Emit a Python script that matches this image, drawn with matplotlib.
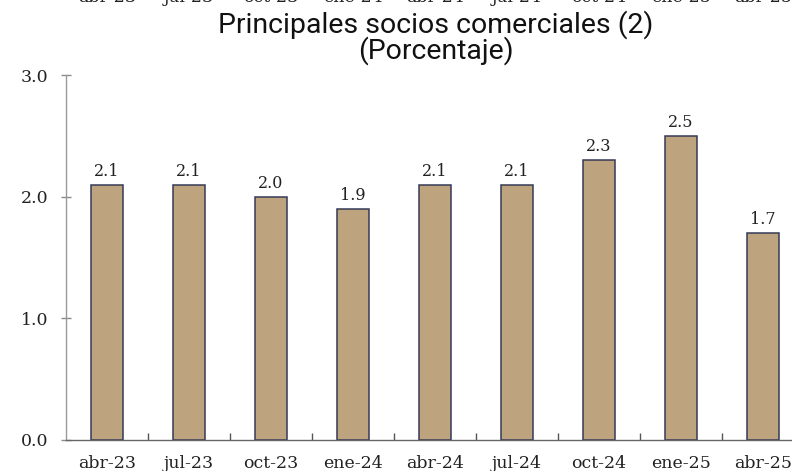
import matplotlib
matplotlib.use("Agg")
import matplotlib.pyplot as plt
import matplotlib.transforms as mtransforms

categories = ["abr-23", "jul-23", "oct-23", "ene-24", "abr-24", "jul-24", "oct-24", "ene-25", "abr-25"]
values = [2.1, 2.1, 2.0, 1.9, 2.1, 2.1, 2.3, 2.5, 1.7]
yticks = [0.0, 1.0, 2.0, 3.0]
title_lines = ["Principales socios comerciales (2)", "(Porcentaje)"]

W, H = 792, 471
fig = plt.figure(figsize=(W / 100, H / 100), dpi=100)
ax = fig.add_axes([66 / W, 31 / H, (792 - 66) / W, (440 - 75) / H])

xs = list(range(len(categories)))
ax.bar(xs, values, width=0.39, color="#BDA47F", edgecolor="#353A55", linewidth=1.1, zorder=2)

ax.set_xlim(-0.5, 8.354)
ax.set_ylim(0, 3.0)

serif = "DejaVu Serif"
for x, v in zip(xs, values):
    ax.annotate(f"{v:.1f}", (x, v), xytext=(0, 3.5), textcoords="offset points",
                ha="center", va="bottom", fontsize=11.5, family=serif, color="#222222")

ax.set_yticks(yticks)
ax.set_yticklabels([f"{t:.1f}" for t in yticks], family=serif, fontsize=12.5, color="#222222")
ax.set_xticks(xs)
ax.set_xticklabels(categories, family=serif, fontsize=12.5, color="#222222")
ax.tick_params(axis="x", length=0, pad=10.5)
ax.tick_params(axis="y", direction="inout", length=7.2, width=1, color="#8a8a8a", pad=9)

# minor ticks at category boundaries
ax.set_xticks([i + 0.5 for i in range(len(categories) - 1)], minor=True)
ax.tick_params(axis="x", which="minor", direction="in", length=5, width=1, color="#555555")

for s in ["top", "right"]:
    ax.spines[s].set_visible(False)
ax.spines["left"].set_color("#9a9a9a")
ax.spines["bottom"].set_color("#666666")
ax.spines["left"].set_linewidth(1.0)
ax.spines["bottom"].set_linewidth(1.0)

fig.text(436 / W, 1 - 25 / H, title_lines[0], ha="center", va="center",
         fontsize=20.5, family="Roboto", color="#111111")
fig.text(436 / W, 1 - 51 / H, title_lines[1], ha="center", va="center",
         fontsize=20.5, family="Roboto", color="#111111")

# partially visible labels from a chart above (cut off at the top edge)
trans = mtransforms.blended_transform_factory(ax.transData, fig.transFigure)
for x, c in zip(xs, categories):
    ax.text(x, 1 - 2.5 / H, c, transform=trans, ha="center", va="baseline",
            fontsize=12.5, family=serif, color="#222222", clip_on=False)

fig.savefig("out.png", dpi=100)
